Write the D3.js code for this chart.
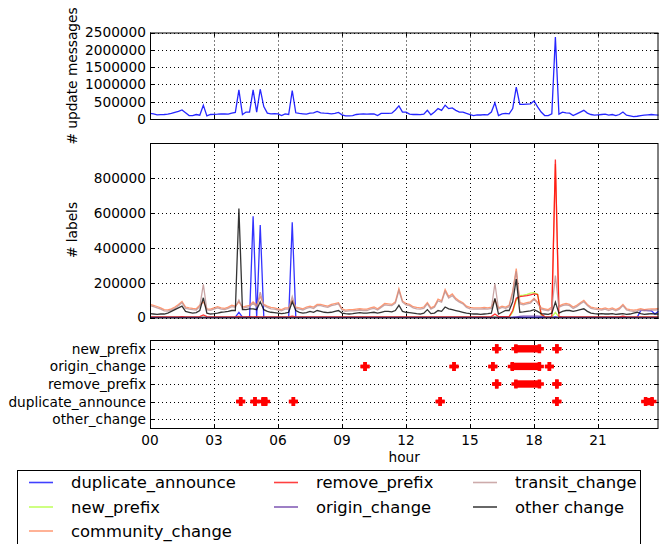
<!DOCTYPE html>
<html>
<head>
<meta charset="utf-8">
<script src="https://cdnjs.cloudflare.com/ajax/libs/d3/7.8.5/d3.min.js"></script>
<style>
    body { margin: 0; background: #fff; }
    svg { display: block; font-family: "DejaVu Sans", sans-serif; }
</style>
</head>
<body>
<svg id="chart" width="659" height="544"></svg>
<script>
// values are in thousands, one point every 10 minutes (144 points)
var UNIT = 1000;
var STEP_MINUTES = 10;

var xTickHours = [0, 3, 6, 9, 12, 15, 18, 21];
var xTickLabels = ["00", "03", "06", "09", "12", "15", "18", "21"];
var updateTicks = [0, 500000, 1000000, 1500000, 2000000, 2500000];
var labelTicks = [0, 200000, 400000, 600000, 800000];
var eventTypes = ["new_prefix", "origin_change", "remove_prefix", "duplicate_announce", "other_change"];

var updateMessages = [
    165,150,120,125,130,140,160,190,220,260,180,100,
    100,130,110,400,90,130,135,140,150,145,140,170,
    190,840,130,200,200,840,200,860,360,170,150,155,
    150,100,150,130,820,180,160,150,140,170,180,220,
    180,170,165,150,160,190,120,90,90,95,130,140,
    150,140,145,150,100,160,165,160,170,260,380,200,
    200,140,130,130,125,140,250,120,200,300,250,400,
    300,320,250,200,200,160,130,100,120,115,125,120,
    200,470,100,150,160,150,300,920,420,420,430,440,
    520,350,200,100,100,150,2370,140,200,180,170,100,
    150,200,250,170,130,110,120,130,140,110,130,100,
    130,200,110,90,70,80,100,110,120,130,120,110
];

var duplicateAnnounce = [
    1,1,1,1,1,1,1,1,1,1,1,1,
    1,1,1,1,1,1,1,1,1,1,1,1,
    2,30,2,2,2,580,2,530,2,1,1,1,
    1,1,1,1,545,2,1,1,1,1,1,1,
    1,1,1,1,1,1,1,1,1,1,1,1,
    1,1,1,1,1,1,1,1,1,1,1,1,
    1,1,1,1,1,1,1,1,1,1,1,1,
    1,1,1,1,1,1,1,1,1,1,1,1,
    1,3,1,1,1,1,1,1,1,1,1,1,
    1,1,1,1,1,1,3,1,1,1,1,1,
    1,1,1,1,1,1,1,1,1,1,1,1,
    1,1,1,1,1,1,40,42,40,38,20,35
];

var newPrefix = [
    2,2,2,2,2,2,2,2,2,2,2,2,
    2,2,2,2,2,2,2,2,2,2,2,2,
    2,2,2,2,2,2,2,2,2,2,2,2,
    2,2,2,2,2,2,2,2,2,2,2,2,
    2,2,2,2,2,2,2,2,2,2,2,2,
    2,2,2,2,2,2,2,2,2,2,2,2,
    2,2,2,2,2,2,2,2,2,2,2,2,
    2,2,2,2,2,2,2,2,2,2,2,2,
    2,3,2,2,2,2,30,100,125,128,133,140,
    142,134,15,3,2,2,30,2,2,2,2,2,
    2,2,2,2,2,2,2,2,2,2,2,2,
    2,2,2,2,2,2,2,2,2,2,2,2
];

var communityChange = [
    75,70,63,55,45,44,50,60,75,92,60,55,
    52,50,70,90,50,48,55,62,55,52,60,70,
    65,90,60,65,70,90,70,120,75,65,58,55,
    50,45,55,55,100,60,55,50,60,65,60,75,
    75,70,65,75,80,85,50,42,45,45,48,50,
    48,48,55,60,50,65,80,78,75,90,165,95,
    80,75,62,58,55,60,85,55,65,105,95,160,
    120,135,110,95,85,65,58,55,55,55,58,55,
    60,100,55,65,60,70,150,280,85,80,85,90,
    110,90,55,50,45,60,880,65,75,80,75,60,
    70,85,98,75,60,55,52,50,55,48,55,45,
    55,75,50,45,42,45,50,45,48,50,50,52
];

var removePrefix = [
    4,4,4,4,4,4,4,4,4,5,4,4,
    4,4,5,15,5,4,4,4,4,4,4,4,
    4,6,4,4,5,4,5,4,4,4,4,4,
    4,4,4,4,8,4,4,4,4,4,4,4,
    4,4,4,4,4,4,4,4,4,4,4,4,
    4,4,4,4,4,4,4,4,4,4,4,4,
    4,4,4,4,4,4,4,4,4,4,4,4,
    4,4,4,4,4,4,4,4,4,4,4,4,
    5,20,5,5,5,5,40,110,120,122,125,130,
    135,132,20,5,4,4,905,6,4,4,4,4,
    4,4,4,4,4,4,4,4,4,4,4,4,
    4,8,4,4,4,4,4,4,4,4,4,4
];

var originChange = [
    1,1,1,1,1,1,1,1,1,1,1,1,
    1,1,1,1,1,1,1,1,1,1,1,1,
    1,1,1,1,1,1,1,1,1,1,1,1,
    1,1,1,1,1,1,1,1,1,1,1,1,
    1,1,1,1,1,1,1,1,1,1,1,1,
    1,1,1,1,1,1,1,1,1,1,1,1,
    1,1,1,1,1,1,1,1,1,1,1,1,
    1,1,1,1,1,1,1,1,1,1,1,1,
    1,1,1,1,1,1,2,4,6,8,8,8,
    8,8,6,2,1,1,2,1,1,1,1,1,
    1,1,1,1,1,1,1,1,1,1,1,1,
    1,1,1,1,1,1,1,1,1,1,1,1
];

var transitChange = [
    68,62,55,48,38,37,43,52,67,85,52,48,
    45,43,62,190,43,41,48,55,48,45,52,62,
    58,100,52,58,62,82,62,145,68,58,50,48,
    43,38,48,48,120,52,48,43,52,58,52,68,
    68,62,58,68,72,78,43,35,38,38,40,43,
    40,40,48,52,43,58,72,70,68,82,155,88,
    72,68,55,50,48,52,78,48,58,95,88,150,
    112,125,102,88,78,58,50,48,48,48,50,48,
    52,195,48,58,52,62,140,265,78,72,78,82,
    105,82,48,43,38,52,240,58,68,72,68,52,
    62,78,90,68,52,48,45,43,48,40,48,38,
    48,68,43,38,35,38,43,38,40,43,43,45
];

var otherChange = [
    22,20,18,20,20,25,35,45,55,65,35,30,
    25,28,40,113,25,20,22,25,30,32,35,40,
    40,625,45,45,50,50,45,90,45,35,30,28,
    25,22,25,30,90,40,30,25,28,35,30,40,
    35,30,28,30,35,40,25,22,20,22,25,28,
    25,25,28,30,25,30,35,35,32,40,70,35,
    30,28,25,22,20,25,45,22,25,40,35,60,
    50,45,40,35,30,25,22,20,20,18,20,22,
    25,110,20,30,40,40,90,220,30,32,35,38,
    45,35,22,20,18,25,88,25,35,40,40,35,
    40,45,50,35,25,22,20,22,20,20,22,18,
    20,22,18,20,25,30,22,18,20,22,20,20
];

// detected events per type, [start hour, end hour]
var newPrefixEvents = [[16.25, 16.25], [17.15, 18.25], [19.07, 19.07]];
var originChangeEvents = [[10.08, 10.08], [14.25, 14.25], [16.07, 16.07], [16.98, 18.25], [18.72, 18.72]];
var removePrefixEvents = [[16.25, 16.25], [17.15, 18.25], [19.07, 19.07]];
var duplicateAnnounceEvents = [[4.25, 4.25], [4.92, 4.92], [5.3, 5.42], [6.72, 6.72], [13.6, 13.6], [19.07, 19.07], [23.23, 23.53]];
var otherChangeEvents = [];

var labelSeries = [
    {name: "duplicate_announce", color: "#0000ff", values: duplicateAnnounce},
    {name: "new_prefix", color: "#adff2f", values: newPrefix},
    {name: "community_change", color: "#ff7f50", values: communityChange},
    {name: "remove_prefix", color: "#ff0000", values: removePrefix},
    {name: "origin_change", color: "#5b2a9e", values: originChange},
    {name: "transit_change", color: "#bc8f8f", values: transitChange},
    {name: "other change", color: "#000000", values: otherChange}
];
var eventSeries = [newPrefixEvents, originChangeEvents, removePrefixEvents, duplicateAnnounceEvents, otherChangeEvents];

var times = updateMessages.map((d, i) => i * STEP_MINUTES / 60);

var svg = d3.select("#chart");
var left = 150, right = 658.5;
var x = d3.scaleLinear().domain([0, times[times.length - 1]]).range([left, right]);

var TICK_FONT = 13.7;

function drawFrame(g, y, top, bottom, yTicks, yFormat) {
    // grid
    g.append("g").selectAll("line.vg")
        .data(xTickHours.filter(h => h > 0))
        .enter().append("line")
        .attr("x1", d => Math.round(x(d)) + 0.5).attr("x2", d => Math.round(x(d)) + 0.5)
        .attr("y1", top).attr("y2", bottom)
        .attr("stroke", "#000").attr("stroke-width", 1)
        .attr("stroke-dasharray", "1,3");
    g.append("g").selectAll("line.hg")
        .data(yTicks)
        .enter().append("line")
        .attr("x1", left).attr("x2", right)
        .attr("y1", d => Math.round(y(d)) + 0.5).attr("y2", d => Math.round(y(d)) + 0.5)
        .attr("stroke", "#000").attr("stroke-width", 1)
        .attr("stroke-dasharray", "1,3");

    // ticks pointing inside, on all sides
    xTickHours.forEach(h => {
        var xx = Math.round(x(h)) + 0.5;
        g.append("line").attr("x1", xx).attr("x2", xx).attr("y1", top).attr("y2", top + 4).attr("stroke", "#000");
        g.append("line").attr("x1", xx).attr("x2", xx).attr("y1", bottom).attr("y2", bottom - 4).attr("stroke", "#000");
    });
    yTicks.forEach(t => {
        var yy = Math.round(y(t)) + 0.5;
        g.append("line").attr("x1", left).attr("x2", left + 4).attr("y1", yy).attr("y2", yy).attr("stroke", "#000");
        g.append("line").attr("x1", right).attr("x2", right - 4).attr("y1", yy).attr("y2", yy).attr("stroke", "#000");
    });

    g.append("g").selectAll("text")
        .data(yTicks)
        .enter().append("text")
        .attr("x", left - 4)
        .attr("y", d => y(d))
        .attr("dy", "0.36em")
        .attr("text-anchor", "end")
        .attr("font-size", TICK_FONT)
        .text(yFormat);
}

function drawBorder(g, top, bottom) {
    g.append("rect")
        .attr("x", left + 0.5).attr("y", top + 0.5)
        .attr("width", right - left - 1).attr("height", bottom - top)
        .attr("fill", "none").attr("stroke", "#000").attr("stroke-width", 1);
}

function yLabel(text, cx, cy) {
    svg.append("text")
        .attr("transform", "translate(" + cx + "," + cy + ") rotate(-90)")
        .attr("dy", "0.36em")
        .attr("text-anchor", "middle")
        .attr("font-size", TICK_FONT)
        .text(text);
}

// ---- panel 1: update messages
var top1 = 32.5, bottom1 = 119;
var y1 = d3.scaleLinear().domain([0, 2500000]).range([bottom1, top1]);
var g1 = svg.append("g");
drawFrame(g1, y1, top1, bottom1, updateTicks, d => d3.format("d")(d));
g1.append("path")
    .attr("d", d3.line().x((d, i) => x(times[i])).y(d => y1(d * UNIT))(updateMessages))
    .attr("fill", "none").attr("stroke", "#0000ff").attr("stroke-opacity", 0.85)
    .attr("stroke-width", 1.3);
drawBorder(g1, top1, bottom1);
yLabel("# update messages", 72.5, 76);

// ---- panel 2: labels
var top2 = 143, bottom2 = 317.5;
var y2 = d3.scaleLinear().domain([0, 1000000]).range([bottom2, top2]);
var g2 = svg.append("g");
drawFrame(g2, y2, top2, bottom2, labelTicks, d => d3.format("d")(d));
var line2 = d3.line().x((d, i) => x(times[i])).y(d => y2(d * UNIT));
g2.selectAll("path.series")
    .data(labelSeries)
    .enter().append("path")
    .attr("class", "series")
    .attr("d", d => line2(d.values))
    .attr("fill", "none")
    .attr("stroke", d => d.color)
    .attr("stroke-opacity", 0.8)
    .attr("stroke-width", 1.3);
drawBorder(g2, top2, bottom2);
yLabel("# labels", 72.5, 230);

// ---- panel 3: events
var top3 = 340, bottom3 = 428;
var y3 = d3.scaleLinear().domain([-0.5, 4.5]).range([top3, bottom3]);
var g3 = svg.append("g");
drawFrame(g3, y3, top3, bottom3, d3.range(eventTypes.length), i => eventTypes[i]);
var ARM = 4.5, THICK = 3.5;
eventSeries.forEach((events, row) => {
    var yy = y3(row);
    events.forEach(ev => {
        var x0 = x(ev[0]), x1 = x(ev[1]);
        if (x1 > x0) {
            g3.append("rect")
                .attr("x", x0 - THICK / 2).attr("y", yy - ARM + 0.8)
                .attr("width", x1 - x0 + THICK).attr("height", 2 * ARM - 1.6)
                .attr("fill", "#ff0000");
        }
        [x0, x1].forEach(cx => {
            g3.append("path")
                .attr("d", "M" + (cx - ARM) + "," + yy + "H" + (cx + ARM) + "M" + cx + "," + (yy - ARM) + "V" + (yy + ARM))
                .attr("stroke", "#ff0000").attr("stroke-width", THICK).attr("fill", "none");
        });
    });
});
drawBorder(g3, top3, bottom3);

g3.selectAll("text.xt")
    .data(xTickHours)
    .enter().append("text")
    .attr("class", "xt")
    .attr("x", (d) => x(d))
    .attr("y", 445)
    .attr("text-anchor", "middle")
    .attr("font-size", TICK_FONT)
    .text((d, i) => xTickLabels[i]);
svg.append("text")
    .attr("x", (left + right) / 2).attr("y", 462)
    .attr("text-anchor", "middle")
    .attr("font-size", TICK_FONT)
    .text("hour");

// ---- legend (3 columns, filled column first)
var LEGEND_FONT = 16.4;
var legend = svg.append("g");
legend.append("rect")
    .attr("x", 17.5).attr("y", 470.5)
    .attr("width", 623).attr("height", 100)
    .attr("fill", "#fff").attr("stroke", "#000").attr("stroke-width", 1);
var colX = [29, 274, 473];
var rowY = [482.5, 507, 531];
var slots = [[0, 0], [0, 1], [0, 2], [1, 0], [1, 1], [2, 0], [2, 1]];
labelSeries.forEach((s, i) => {
    var cx = colX[slots[i][0]], cy = rowY[slots[i][1]];
    legend.append("line")
        .attr("x1", cx).attr("x2", cx + 24)
        .attr("y1", cy).attr("y2", cy)
        .attr("stroke", s.color).attr("stroke-opacity", 0.75)
        .attr("stroke-width", 1.6);
    legend.append("text")
        .attr("x", cx + 42).attr("y", cy)
        .attr("dy", "0.36em")
        .attr("font-size", LEGEND_FONT)
        .text(s.name);
});
</script>
</body>
</html>
